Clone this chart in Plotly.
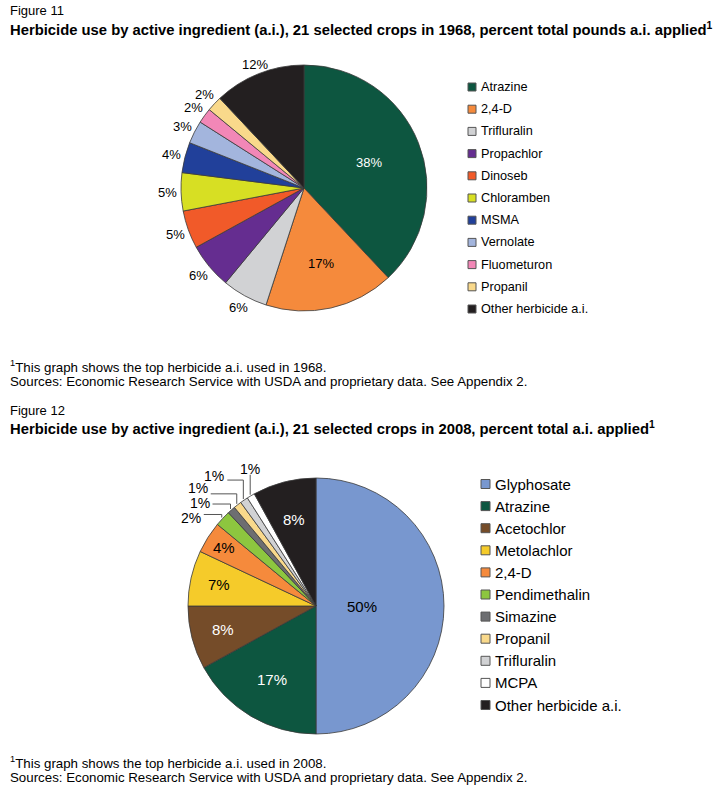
import math
import plotly.graph_objects as go

W, H = 724, 793

# ---- Figure 11 (1968) data ----
labels_1968 = ["Atrazine", "2,4-D", "Trifluralin", "Propachlor", "Dinoseb", "Chloramben",
               "MSMA", "Vernolate", "Fluometuron", "Propanil", "Other herbicide a.i."]
values_1968 = [38, 17, 6, 6, 5, 5, 4, 3, 2, 2, 12]
colors_1968 = ["#0d5640", "#f58a3c", "#d1d2d4", "#652d90", "#f15a29", "#d7df23",
               "#21409a", "#a3b5dd", "#f287b7", "#f9d98b", "#231f20"]

# ---- Figure 12 (2008) data ----
labels_2008 = ["Glyphosate", "Atrazine", "Acetochlor", "Metolachlor", "2,4-D", "Pendimethalin",
               "Simazine", "Propanil", "Trifluralin", "MCPA", "Other herbicide a.i."]
values_2008 = [50, 17, 8, 7, 4, 2, 1, 1, 1, 1, 8]
colors_2008 = ["#7897cf", "#0d5640", "#754c29", "#f5cb2a", "#f58a3c", "#8dc63f",
               "#6d6e71", "#f9d98b", "#d1d2d4", "#ffffff", "#231f20"]

FONT = "Liberation Sans, Arial, sans-serif"

# ---- style / layout constants (pixels) ----
PIE1 = dict(cx=304, cy=188, r=123)
PIE2 = dict(cx=316, cy=606, r=128)
# radial position of each percent label (fraction of radius)
lab_r_1968 = [0.57, 0.63, 1.11, 1.11, 1.11, 1.11, 1.11, 1.11, 1.11, 1.11, 1.08]
lab_c_1968 = ["white", "black"] + ["black"] * 9
lab_r_2008 = [0.36, 0.67, 0.75, 0.78, 0.85, None, None, None, None, None, 0.70]
lab_c_2008 = ["black", "white", "white", "black", "black", None, None, None, None, None, "white"]
# leader lines for the thin 2008 slices: vertical rise, horizontal run, label offset
lead_rise = {5: 3, 6: 5, 7: 10, 8: 19, 9: 20}
lead_run = {5: 18, 6: 18, 7: 26, 8: 16, 9: 0}
lead_dy = {5: 3, 6: -1, 7: -6, 8: -4, 9: -6}


def px_x(x):
    return x / W


def px_y(y):
    return 1 - y / H


def mids(values):
    tot = float(sum(values))
    out, cum = [], 0.0
    for v in values:
        out.append((cum + v / 2.0) / tot * 360.0)
        cum += v
    return out


def polar(p, frac, ang):
    a = math.radians(ang)
    return p["cx"] + frac * p["r"] * math.sin(a), p["cy"] - frac * p["r"] * math.cos(a)


def domain(p):
    return dict(x=[px_x(p["cx"] - p["r"]), px_x(p["cx"] + p["r"])],
                y=[px_y(p["cy"] + p["r"]), px_y(p["cy"] - p["r"])])


fig = go.Figure()
for labs, vals, cols, p in [(labels_1968, values_1968, colors_1968, PIE1),
                            (labels_2008, values_2008, colors_2008, PIE2)]:
    fig.add_trace(go.Pie(
        labels=labs, values=vals, sort=False, direction="clockwise", rotation=0,
        marker=dict(colors=cols, line=dict(color="#3a3a3a", width=0.8)),
        textinfo="none", domain=domain(p), showlegend=False,
        hovertemplate="%{label}: %{value}%<extra></extra>",
    ))

shapes = []
annotations = []


def ann(x, y, s, size, color="black", xanchor="center", yanchor="middle"):
    annotations.append(dict(xref="paper", yref="paper", x=px_x(x), y=px_y(y), text=s,
                            showarrow=False, xanchor=xanchor, yanchor=yanchor,
                            font=dict(size=size, family=FONT, color=color)))


# percent labels 1968
for v, ang, fr, c in zip(values_1968, mids(values_1968), lab_r_1968, lab_c_1968):
    x, y = polar(PIE1, fr, ang)
    ann(x, y, f"{v}%", 13, c)

# percent labels 2008
for i, (v, ang) in enumerate(zip(values_2008, mids(values_2008))):
    if lab_r_2008[i] is not None:
        x, y = polar(PIE2, lab_r_2008[i], ang)
        ann(x, y, f"{v}%", 15, lab_c_2008[i])
    else:
        x0, y0 = polar(PIE2, 1.01, ang)
        ytop = y0 - lead_rise[i]
        run = lead_run[i]
        pts = [(x0, y0), (x0, ytop)]
        if run > 0:
            pts.append((x0 - run, ytop))
        path = "M " + " L ".join(f"{px_x(a):.5f},{px_y(b):.5f}" for a, b in pts)
        shapes.append(dict(type="path", xref="paper", yref="paper", path=path,
                           line=dict(color="#555555", width=1)))
        if run > 0:
            ann(x0 - run - 1, ytop + lead_dy[i], f"{v}%", 14, xanchor="right")
        else:
            ann(x0, ytop + lead_dy[i], f"{v}%", 14)


def legend(labels, colors, x0, y0, dy, sq, fs):
    for i, (lab, col) in enumerate(zip(labels, colors)):
        yc = y0 + i * dy
        shapes.append(dict(type="rect", xref="paper", yref="paper",
                           x0=px_x(x0), x1=px_x(x0 + sq), y0=px_y(yc + sq / 2), y1=px_y(yc - sq / 2),
                           fillcolor=col, line=dict(color="#555555", width=1)))
        ann(x0 + sq + 3, yc, lab, fs, xanchor="left")


legend(labels_1968, colors_1968, 468, 87, 22.2, 8, 12.7)
legend(labels_2008, colors_2008, 481, 484, 22.1, 9, 15)

ann(8, 11, "Figure 11", 13, xanchor="left")
ann(8, 29, "<b>Herbicide use by active ingredient (a.i.), 21 selected crops in 1968, percent total pounds a.i. applied<sup>1</sup></b>", 14.8, xanchor="left")
ann(8, 366, "<sup>1</sup>This graph shows the top herbicide a.i. used in 1968.", 13.3, xanchor="left")
ann(8, 381, "Sources: Economic Research Service with USDA and proprietary data. See Appendix 2.", 13.3, xanchor="left")
ann(8, 410, "Figure 12", 13, xanchor="left")
ann(8, 428, "<b>Herbicide use by active ingredient (a.i.), 21 selected crops in 2008, percent total a.i. applied<sup>1</sup></b>", 14.8, xanchor="left")
ann(8, 762, "<sup>1</sup>This graph shows the top herbicide a.i. used in 2008.", 13.3, xanchor="left")
ann(8, 777, "Sources: Economic Research Service with USDA and proprietary data. See Appendix 2.", 13.3, xanchor="left")

fig.update_layout(
    width=W, height=H, margin=dict(l=0, r=0, t=0, b=0),
    paper_bgcolor="white", plot_bgcolor="white",
    shapes=shapes, annotations=annotations,
    font=dict(family=FONT, color="black"),
)

fig.write_html("out.html", config={"displayModeBar": False},
               post_script="document.body.style.margin='0px';")
